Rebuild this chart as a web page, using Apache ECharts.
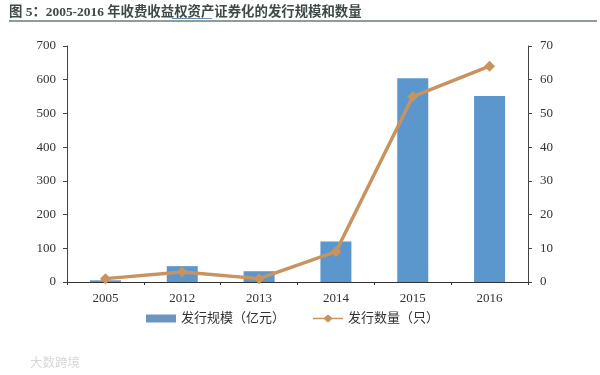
<!DOCTYPE html>
<html>
<head>
<meta charset="utf-8">
<script src="https://cdn.jsdelivr.net/npm/echarts@6/dist/echarts.min.js"></script>
<style>
  html, body { margin: 0; padding: 0; background: #fff; }
  #chart { width: 600px; height: 375px; }
</style>
</head>
<body>
<div id="chart"></div>
<script>
const years = ['2005', '2012', '2013', '2014', '2015', '2016'];
const issueSize = [5, 47, 32, 120, 604, 552];
const issueCount = [1, 3, 1, 9, 55, 64];
const leftTicks = [0, 700];
const rightTicks = [0, 70];

const FONT = '"Liberation Serif", "Noto Sans CJK SC", serif';
const TEXT = '#333';

const chart = echarts.init(document.getElementById('chart'));
chart.setOption({
  animation: false,
  backgroundColor: '#fff',
  textStyle: { fontFamily: FONT },
  title: {
    text: '图 5：2005-2016 年收费收益权资产证券化的发行规模和数量',
    left: 4,
    top: 1,
    textStyle: { fontFamily: FONT, fontSize: 13.4, fontWeight: 'bold', color: '#3f4a48' },
  },
  graphic: [
    {
      type: 'line',
      shape: { x1: 9, y1: 21, x2: 597, y2: 21 },
      style: { stroke: '#1c3c3c', lineWidth: 1.2 },
    },
    {
      type: 'line',
      shape: { x1: 172, y1: 18.5, x2: 212, y2: 18.5 },
      style: { stroke: '#6f8fb0', lineWidth: 1 },
    },
    {
      type: 'text',
      left: 30,
      top: 357,
      style: { text: '大数跨境', fill: '#d8d8d8', fontSize: 12.5, fontFamily: FONT },
    },
  ],
  legend: {
    top: 307,
    left: 141,
    itemGap: 28,
    itemWidth: 30,
    itemHeight: 8,
    textStyle: { fontFamily: FONT, fontSize: 13, color: TEXT },
    data: [
      { name: '发行规模（亿元）', icon: 'rect', itemStyle: { color: '#6a95c0' } },
      { name: '发行数量（只）', icon: 'path://M0 3.2H11L15 0L19 3.2H30V4.8H19L15 8L11 4.8H0Z' },
    ],
  },
  grid: { left: 67, right: 72, top: 46, bottom: 93 },
  xAxis: {
    type: 'category',
    data: years,
    axisLine: { lineStyle: { color: '#333', width: 1 } },
    axisTick: { show: true, length: 3, lineStyle: { color: '#333' } },
    axisLabel: { color: TEXT, fontSize: 13, margin: 10, fontFamily: FONT },
  },
  yAxis: [
    {
      type: 'value',
      min: leftTicks[0],
      max: leftTicks[1],
      interval: 100,
      splitLine: { show: false },
      axisLine: { show: true, lineStyle: { color: '#444' } },
      axisTick: { show: true, length: 4, lineStyle: { color: '#444' } },
      axisLabel: { color: TEXT, fontSize: 13, margin: 11, fontFamily: FONT },
    },
    {
      type: 'value',
      min: rightTicks[0],
      max: rightTicks[1],
      interval: 10,
      splitLine: { show: false },
      axisLine: { show: true, lineStyle: { color: '#444' } },
      axisTick: { show: true, length: 4, lineStyle: { color: '#444' } },
      axisLabel: { color: TEXT, fontSize: 13, margin: 12, fontFamily: FONT },
    },
  ],
  series: [
    {
      name: '发行规模（亿元）',
      type: 'bar',
      data: issueSize,
      barWidth: 31,
      itemStyle: { color: '#5b96cd' },
    },
    {
      name: '发行数量（只）',
      type: 'line',
      yAxisIndex: 1,
      data: issueCount,
      symbol: 'diamond',
      symbolSize: 11,
      lineStyle: { color: '#c8935f', width: 3.5 },
      itemStyle: { color: '#c8935f' },
    },
  ],
});
</script>
</body>
</html>
